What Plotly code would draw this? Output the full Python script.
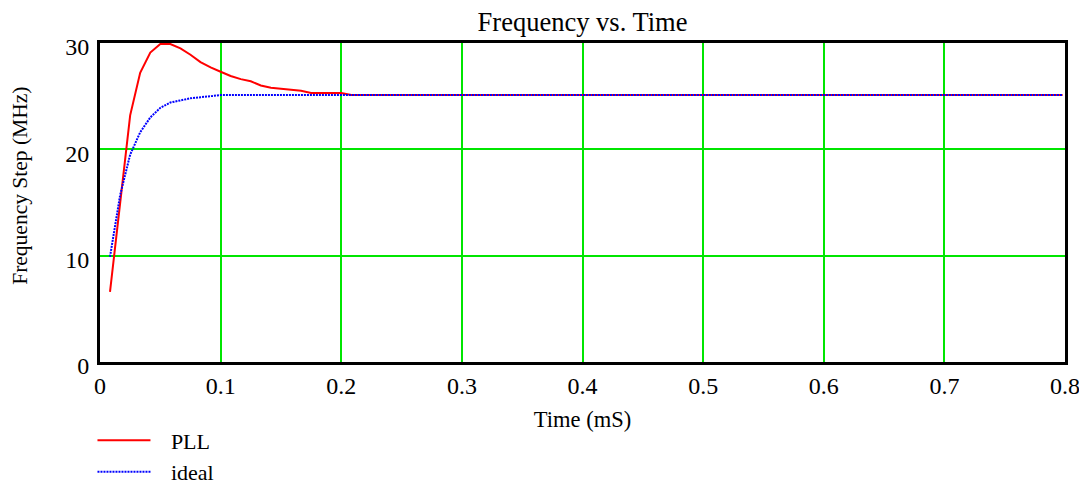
import plotly.graph_objects as go

# Time (mS)
t_pll = [0.0083, 0.0167, 0.025, 0.0333, 0.0417, 0.05, 0.0583, 0.0667, 0.075, 0.0833,
         0.0917, 0.1, 0.1083, 0.1167, 0.125, 0.1333, 0.1417, 0.15, 0.1583, 0.1667,
         0.175, 0.1833, 0.1917, 0.2, 0.2083, 0.798]
f_pll = [6.6, 15.2, 23.2, 27.2, 29.1, 29.9, 29.9, 29.5, 28.9, 28.2,
         27.7, 27.3, 26.9, 26.6, 26.4, 26.0, 25.8, 25.7, 25.6, 25.5,
         25.3, 25.3, 25.3, 25.3, 25.1, 25.1]

t_ideal = [0.0083, 0.0167, 0.025, 0.0333, 0.0417, 0.05, 0.0583, 0.0667, 0.075, 0.0833,
           0.0917, 0.1, 0.798]
f_ideal = [9.9, 15.7, 19.5, 21.6, 23.0, 23.9, 24.4, 24.6, 24.8, 24.9,
           25.0, 25.1, 25.1]

x_ticks = [0, 0.1, 0.2, 0.3, 0.4, 0.5, 0.6, 0.7, 0.8]
x_labels = ["0", "0.1", "0.2", "0.3", "0.4", "0.5", "0.6", "0.7", "0.8"]
y_ticks = [0, 10, 20, 30]
y_labels = ["0", "10", "20", "30"]

FONT = "Liberation Serif, Times New Roman, serif"
GRID = "#00e600"
PAD = "\u00a0\u00a0\u2009"

# the page body has an 8px default margin, so the figure is 8px smaller
W, H = 1079, 479

fig = go.Figure()
fig.add_trace(go.Scatter(x=t_pll, y=f_pll, mode="lines", name=PAD + "PLL",
                         line=dict(color="#ff0000", width=2)))
fig.add_trace(go.Scatter(x=t_ideal, y=f_ideal, mode="lines", name=PAD + "ideal",
                         line=dict(color="#0000ff", width=2, dash="2px,1px")))

fig.update_layout(
    width=W, height=H,
    margin=dict(l=92, r=22, t=35, b=125, autoexpand=False),
    paper_bgcolor="white", plot_bgcolor="white",
    font=dict(family=FONT, size=22, color="black"),
    title=dict(text="Frequency vs. Time", x=0.5, xref="paper", xanchor="center",
               y=1 - 14 / H, yref="container", yanchor="middle", font=dict(size=26.5)),
    showlegend=True,
    legend=dict(x=-0.0078, y=-0.18, xanchor="left", yanchor="top",
                font=dict(size=22), bgcolor="rgba(0,0,0,0)", tracegroupgap=0,
                itemwidth=53),
    xaxis=dict(range=[0, 0.8], tickvals=x_ticks, ticktext=x_labels,
               showgrid=True, gridcolor=GRID, gridwidth=2,
               showline=True, linecolor="black", linewidth=3, mirror=True,
               zeroline=False, ticks="", tickfont=dict(size=24),
               title=dict(text="Time (mS)", font=dict(size=22.5), standoff=14)),
    yaxis=dict(range=[0, 30], tickvals=y_ticks, ticktext=y_labels,
               showgrid=True, gridcolor=GRID, gridwidth=2,
               showline=True, linecolor="black", linewidth=3, mirror=True,
               zeroline=False, ticks="", tickfont=dict(size=24),
               ticklabelshift=4, ticklabelstandoff=3),
    annotations=[dict(text="Frequency Step (MHz)", xref="paper", yref="paper",
                      x=-0.083, y=0.552, textangle=-90, showarrow=False,
                      font=dict(size=21.5), xanchor="center", yanchor="middle")],
)

fig.write_html("out.html")
